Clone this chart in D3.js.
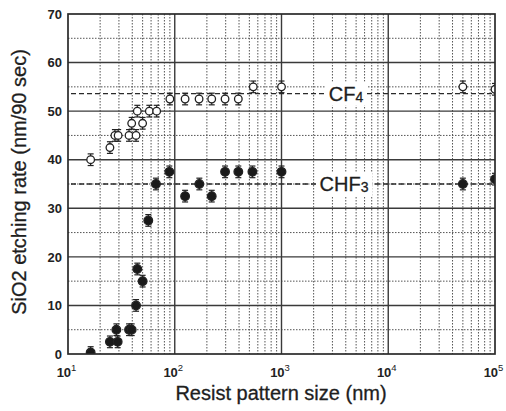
<!DOCTYPE html>
<html>
<head>
<meta charset="utf-8">
<script src="https://cdn.jsdelivr.net/npm/d3@7"></script>
<style>
html,body{margin:0;padding:0;background:#fff;}
svg{display:block;font-family:"Liberation Sans",Arial,Helvetica,sans-serif;}
</style>
</head>
<body>
<svg id="chart" width="506" height="411"></svg>
<script>
// ---- data ----
const cf4Size = [16.3, 24.7, 27.5, 29.5, 37.3, 39.5, 43.4, 44.6, 50, 57.8, 67.7, 90, 125, 169, 222, 296, 394, 544, 1000, 50000, 100000];
const cf4Rate = [40, 42.5, 45, 45, 45, 47.5, 45, 50, 47.5, 50, 50, 52.5, 52.5, 52.5, 52.5, 52.5, 52.5, 55, 55, 55, 54.5];
const chf3Size = [16.3, 24.7, 28.4, 29.2, 37.3, 39.5, 43.4, 44.6, 50, 56.5, 66.7, 89, 125, 170, 222, 296, 394, 534, 1000, 50000, 100000];
const chf3Rate = [0.3, 2.5, 5, 2.5, 5, 5, 10, 17.5, 15, 27.5, 35, 37.5, 32.5, 35, 32.5, 37.5, 37.5, 37.5, 37.5, 35, 36];
const errBar = 1.2;
const cf4Level = 53.6;
const chf3Level = 35;
const xTickExps = [1, 2, 3, 4, 5];
const yTicks = [0, 10, 20, 30, 40, 50, 60, 70];
const xTitle = "Resist pattern size (nm)";
const yTitle = "SiO2 etching rate (nm/90 sec)";

const svg = d3.select("#chart");
const L = 68, R = 495, T = 14, B = 354;
const x = d3.scaleLog().domain([10, 1e5]).range([L, R]);
const y = d3.scaleLinear().domain([0, 70]).range([B, T]);

svg.append("defs").append("clipPath").attr("id", "plotclip")
  .append("rect").attr("x", L).attr("y", T).attr("width", R - L).attr("height", B - T);

// minor grid
const minorX = [];
for (let e = 1; e < 5; e++) for (let k = 2; k <= 9; k++) minorX.push(k * Math.pow(10, e));
const grid = svg.append("g");
grid.selectAll(".mx").data(minorX).enter().append("line")
  .attr("x1", d => x(d)).attr("x2", d => x(d)).attr("y1", T).attr("y2", B)
  .attr("stroke", "#555").attr("stroke-width", 1).attr("stroke-dasharray", "1.5,1.5");
const minorY = d3.range(5, 70, 10);
grid.selectAll(".my").data(minorY).enter().append("line")
  .attr("x1", L).attr("x2", R).attr("y1", d => y(d)).attr("y2", d => y(d))
  .attr("stroke", "#555").attr("stroke-width", 1).attr("stroke-dasharray", "1.5,1.5");
// major grid
grid.selectAll(".Mx").data([100, 1000, 10000]).enter().append("line")
  .attr("x1", d => x(d)).attr("x2", d => x(d)).attr("y1", T).attr("y2", B)
  .attr("stroke", "#3a3a3a").attr("stroke-width", 1.4);
grid.selectAll(".My").data(yTicks.slice(1, -1)).enter().append("line")
  .attr("x1", L).attr("x2", R).attr("y1", d => y(d)).attr("y2", d => y(d))
  .attr("stroke", "#3a3a3a").attr("stroke-width", 1.4);

// reference dashed lines
svg.append("g").selectAll("line").data([cf4Level, chf3Level]).enter().append("line")
  .attr("x1", L + 3).attr("x2", R).attr("y1", d => y(d)).attr("y2", d => y(d))
  .attr("stroke", "#2a2a2a").attr("stroke-width", 1.4).attr("stroke-dasharray", "5,3");

// labels with white backgrounds
function seriesLabel(cx, level, main, sub, w) {
  const g = svg.append("g");
  g.append("rect").attr("x", cx - w / 2).attr("y", y(level) - 12).attr("width", w).attr("height", 24).attr("fill", "#fff");
  const t = g.append("text").attr("x", cx).attr("y", y(level) + 7).attr("text-anchor", "middle")
    .attr("font-size", 20).attr("fill", "#1e1e1e").attr("stroke", "#1e1e1e").attr("stroke-width", 0.3);
  t.append("tspan").text(main);
  t.append("tspan").attr("font-size", 14).attr("dy", 1).text(sub);
}
seriesLabel(346, cf4Level, "CF", "4", 42);
seriesLabel(344, chf3Level, "CHF", "3", 56);

// data
const plot = svg.append("g").attr("clip-path", "url(#plotclip)");
function drawSeries(xs, ys, filled) {
  const data = xs.map((v, i) => ({ s: v, r: ys[i] }));
  const g = plot.append("g");
  const eb = g.selectAll(".eb").data(data).enter().append("g");
  eb.append("line").attr("x1", d => x(d.s)).attr("x2", d => x(d.s))
    .attr("y1", d => y(d.r - errBar)).attr("y2", d => y(d.r + errBar))
    .attr("stroke", "#222").attr("stroke-width", 1.2);
  [-errBar, errBar].forEach(o => {
    eb.append("line").attr("x1", d => x(d.s) - 3).attr("x2", d => x(d.s) + 3)
      .attr("y1", d => y(d.r + o)).attr("y2", d => y(d.r + o))
      .attr("stroke", "#222").attr("stroke-width", 1.2);
  });
  g.selectAll("circle").data(data).enter().append("circle")
    .attr("cx", d => x(d.s)).attr("cy", d => y(d.r)).attr("r", filled ? 4.3 : 3.8)
    .attr("fill", filled ? "#1a1a1a" : "#fff").attr("stroke", "#222").attr("stroke-width", 1.3);
}
drawSeries(cf4Size, cf4Rate, false);
drawSeries(chf3Size, chf3Rate, true);

// frame
svg.append("rect").attr("x", L).attr("y", T).attr("width", R - L).attr("height", B - T)
  .attr("fill", "none").attr("stroke", "#2a2a2a").attr("stroke-width", 1.7);

// y axis labels
const yAxis = d3.axisLeft(y).tickValues(yTicks).tickSize(0).tickPadding(6);
const ya = svg.append("g").attr("transform", `translate(${L},0)`).call(yAxis);
ya.select(".domain").remove();
ya.selectAll("text").attr("font-size", 13).attr("font-weight", "bold").attr("fill", "#222")
  .attr("font-family", "Liberation Sans, Arial, sans-serif");

// x axis labels with superscripts
const xAxis = d3.axisBottom(x).tickValues(xTickExps.map(e => Math.pow(10, e))).tickSize(0).tickPadding(14).tickFormat("");
const xa = svg.append("g").attr("transform", `translate(0,${B})`).call(xAxis);
xa.select(".domain").remove();
xa.selectAll(".tick text").each(function (d) {
  const t = d3.select(this).attr("font-size", 13).attr("font-weight", "bold").attr("fill", "#222")
    .attr("font-family", "Liberation Sans, Arial, sans-serif").attr("dx", "-2");
  t.append("tspan").text("10");
  t.append("tspan").attr("font-size", 9.5).attr("font-weight", "normal").attr("dy", "-6").text(Math.round(Math.log10(d)));
});

// axis titles
svg.append("text").attr("x", 281).attr("y", 400).attr("text-anchor", "middle")
  .attr("font-size", 20).attr("fill", "#1e1e1e").attr("stroke", "#1e1e1e").attr("stroke-width", 0.3).text(xTitle);
svg.append("text").attr("transform", "translate(26,182) rotate(-90)").attr("text-anchor", "middle")
  .attr("font-size", 20).attr("fill", "#1e1e1e").attr("stroke", "#1e1e1e").attr("stroke-width", 0.3).text(yTitle);
</script>
</body>
</html>
